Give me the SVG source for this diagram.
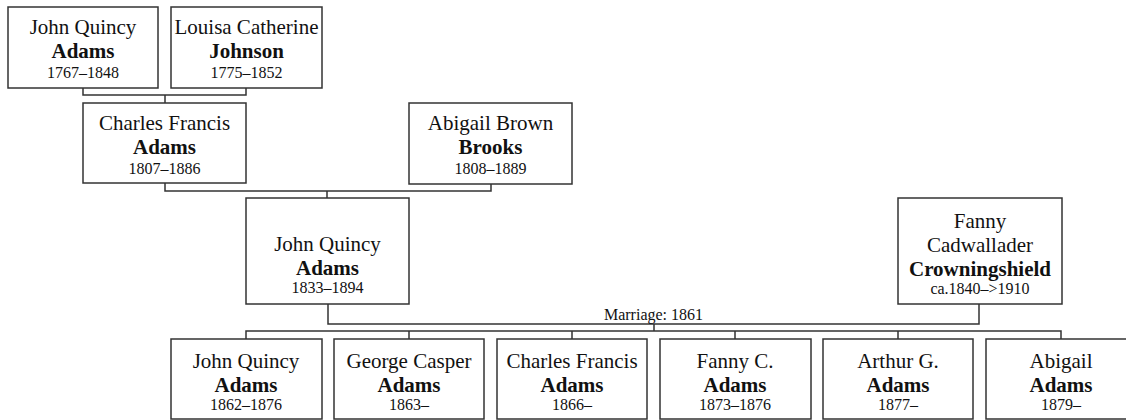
<svg xmlns="http://www.w3.org/2000/svg" width="1126" height="420" viewBox="0 0 1126 420">
<style>
.box{fill:#fff;stroke:#333;stroke-width:1.5}
.ln{fill:none;stroke:#333;stroke-width:1.5}
text{font-family:"Liberation Serif","Times New Roman",serif;fill:#111;text-anchor:middle}
.n{font-size:21px}
.s{font-size:21px;font-weight:bold}
.d{font-size:16px}
.m{font-size:16px}
</style>
<rect width="1126" height="420" fill="#fff"/>
<g id="connectors">
<path class="ln" d="M83,88 V95 H246 V88 M165,95 V103"/>
<path class="ln" d="M165,183 V191 H491 V184 M327,191 V198"/>
<path class="ln" d="M328,304 V324 H979 V304 M654,324 V331"/>
<path class="ln" d="M246,339 V331 H1061 V339 M409,331 V339 M572,331 V339 M735,331 V339 M898,331 V339"/>
<text class="m" x="653.5" y="320">Marriage: 1861</text>
</g>
<g id="jqa1767">
<rect class="box" x="8" y="7" width="150" height="81"/>
<text class="n" x="83" y="34">John Quincy</text>
<text class="s" x="83" y="57.5">Adams</text>
<text class="d" x="83" y="78">1767–1848</text>
</g>
<g id="louisa">
<rect class="box" x="171" y="7" width="151" height="81"/>
<text class="n" x="246.5" y="34">Louisa Catherine</text>
<text class="s" x="246.5" y="57.5">Johnson</text>
<text class="d" x="246.5" y="78">1775–1852</text>
</g>
<g id="cfa1807">
<rect class="box" x="83" y="103" width="163" height="80"/>
<text class="n" x="164.5" y="130">Charles Francis</text>
<text class="s" x="164.5" y="153.5">Adams</text>
<text class="d" x="164.5" y="174">1807–1886</text>
</g>
<g id="abigailbrooks">
<rect class="box" x="409" y="103" width="163" height="81"/>
<text class="n" x="490.5" y="130">Abigail Brown</text>
<text class="s" x="490.5" y="153.5">Brooks</text>
<text class="d" x="490.5" y="174">1808–1889</text>
</g>
<g id="jqa1833">
<rect class="box" x="246" y="198" width="163" height="106"/>
<text class="n" x="327.5" y="251">John Quincy</text>
<text class="s" x="327.5" y="275">Adams</text>
<text class="d" x="327.5" y="293">1833–1894</text>
</g>
<g id="fanny">
<rect class="box" x="898" y="198" width="164" height="106"/>
<text class="n" x="980" y="228">Fanny</text>
<text class="n" x="980" y="252">Cadwallader</text>
<text class="s" x="980" y="276">Crowningshield</text>
<text class="d" x="980" y="294">ca.1840–&gt;1910</text>
</g>
<g id="c1">
<rect class="box" x="171" y="339" width="151" height="80"/>
<text class="n" x="246" y="368">John Quincy</text>
<text class="s" x="246" y="391.5">Adams</text>
<text class="d" x="246" y="410">1862–1876</text>
</g>
<g id="c2">
<rect class="box" x="334" y="339" width="150" height="80"/>
<text class="n" x="409" y="368">George Casper</text>
<text class="s" x="409" y="391.5">Adams</text>
<text class="d" x="409" y="410">1863–</text>
</g>
<g id="c3">
<rect class="box" x="497" y="339" width="150" height="80"/>
<text class="n" x="572" y="368">Charles Francis</text>
<text class="s" x="572" y="391.5">Adams</text>
<text class="d" x="572" y="410">1866–</text>
</g>
<g id="c4">
<rect class="box" x="660" y="339" width="151" height="80"/>
<text class="n" x="735" y="368">Fanny C.</text>
<text class="s" x="735" y="391.5">Adams</text>
<text class="d" x="735" y="410">1873–1876</text>
</g>
<g id="c5">
<rect class="box" x="823" y="339" width="150" height="80"/>
<text class="n" x="898" y="368">Arthur G.</text>
<text class="s" x="898" y="391.5">Adams</text>
<text class="d" x="898" y="410">1877–</text>
</g>
<g id="c6">
<rect class="box" x="986" y="339" width="150" height="80"/>
<text class="n" x="1061" y="368">Abigail</text>
<text class="s" x="1061" y="391.5">Adams</text>
<text class="d" x="1061" y="410">1879–</text>
</g>
</svg>
